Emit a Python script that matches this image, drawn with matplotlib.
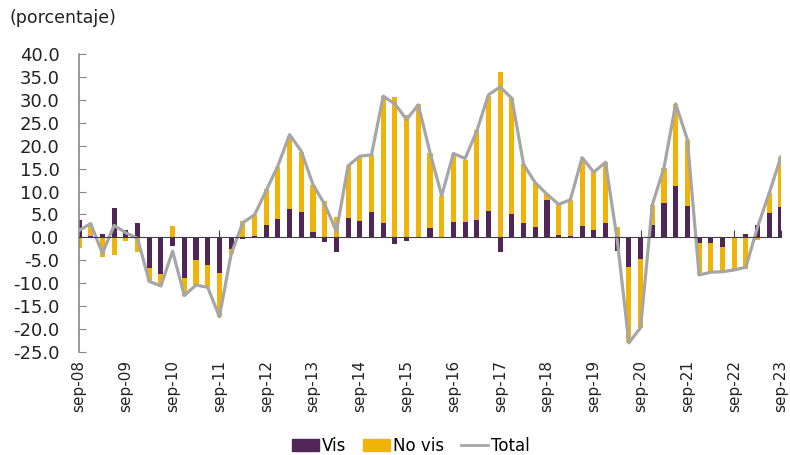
import numpy as np
import matplotlib
matplotlib.use('Agg')
import matplotlib.pyplot as plt
from matplotlib.patches import Patch
from matplotlib.lines import Line2D

# quarterly data, sep-08 .. sep-23 (61 quarters), only every 4th labelled
years = list(range(8, 24))
labels = ['sep-%02d' % y for y in years]

vis = [3.8, 0.2, 0.8, 6.4, 1.5, 3.1, -6.7, -7.9, -1.8, -8.9,
       -4.9, -6.0, -7.8, -2.6, -0.4, 0.3, 2.6, 4.0, 6.1, 5.5,
       1.2, -1.0, -3.3, 4.3, 3.6, 5.5, 3.1, -1.5, -0.9, -0.2,
       2.1, -0.2, 3.3, 3.3, 3.7, 5.7, -3.3, 5.1, 3.1, 2.3,
       8.1, 0.5, 0.3, 2.5, 1.7, 3.1, -3.0, -6.5, -4.8, 2.7,
       7.5, 11.1, 6.8, -1.2, -1.2, -2.1, 0.0, 0.7, 2.8, 5.4,
       6.6]
no_vis = [-2.3, 2.8, -4.3, -3.8, -0.9, -3.3, -2.9, -2.7, 2.4, -3.8,
          -5.5, -4.8, -9.5, -1.1, 3.5, 4.5, 7.9, 11.4, 16.0, 13.2,
          10.2, 8.0, 4.4, 11.3, 13.9, 12.5, 27.7, 30.6, 26.6, 29.0,
          16.4, 9.1, 14.8, 13.6, 19.7, 25.2, 36.1, 25.2, 12.9, 9.5,
          1.3, 6.7, 7.9, 14.9, 12.5, 13.3, 2.3, -16.5, -14.9, 4.4,
          7.7, 18.0, 14.5, -7.0, -6.3, -5.4, -7.0, -6.8, -0.6, 4.3,
          11.0]
total = [1.5, 3.0, -3.5, 2.6, 1.0, -0.2, -9.6, -10.6, -3.0, -12.7,
         -10.4, -10.9, -17.3, -3.7, 3.2, 4.9, 10.2, 15.6, 22.4, 18.8,
         11.5, 7.2, 1.3, 15.6, 17.7, 18.0, 30.8, 29.1, 25.7, 28.9,
         18.5, 9.1, 18.3, 17.2, 23.2, 31.1, 32.8, 30.3, 15.9, 11.9,
         9.4, 7.2, 8.2, 17.4, 14.2, 16.4, -0.5, -23.0, -19.7, 7.1,
         15.2, 29.1, 21.3, -8.2, -7.6, -7.5, -7.1, -6.5, 2.3, 9.7,
         17.6]

purple = '#4F2657'
gold = '#F0B308'
grey = '#A6A6A6'

x = np.arange(len(vis))
vis = np.array(vis)
no_vis = np.array(no_vis)

# excel-style stacking: positives up from zero, negatives down from zero
nv_base = np.where(np.sign(no_vis) == np.sign(vis), vis, 0.0)

fig = plt.figure(figsize=(7.9, 4.55), dpi=100)
ax = fig.add_axes([0.1, 0.2264, 0.8886, 0.655])

ax.bar(x, vis, width=0.43, color=purple, zorder=2)
ax.bar(x, no_vis, width=0.43, bottom=nv_base, color=gold, zorder=2)
ax.plot(x, total, color=grey, lw=2.3, zorder=3)

ax.set_xlim(0, len(x) - 1)
ax.set_ylim(-25, 40)
yt = np.arange(-25, 41, 5)
ax.set_yticks(yt)
ax.set_yticklabels(['%.1f' % v for v in yt], fontsize=13, color='#222222')
ax.tick_params(axis='y', direction='in', length=5, color='#888888', pad=14)

for s in ['top', 'right']:
    ax.spines[s].set_visible(False)
ax.spines['left'].set_color('#888888')
ax.spines['left'].set_linewidth(1.2)
ax.spines['bottom'].set_position(('data', 0))
ax.spines['bottom'].set_color('#404040')
ax.spines['bottom'].set_zorder(4)

tick_pos = x[::4]
ax.set_xticks(tick_pos)
ax.tick_params(axis='x', direction='in', length=5, color='#404040', labelbottom=False)

# labels sit below the plot, not on the zero line
sec = ax.secondary_xaxis('bottom')
sec.set_xticks(tick_pos)
sec.set_xticklabels(labels, rotation=90, fontsize=11, color='#222222')
sec.tick_params(length=0, pad=6)
sec.spines['bottom'].set_visible(False)

fig.text(0.012, 0.96, '(porcentaje)', fontsize=12.5, color='#222222', va='center')

handles = [Patch(color=purple, label='Vis'),
           Patch(color=gold, label='No vis'),
           Line2D([], [], color=grey, lw=2, label='Total')]
fig.legend(handles=handles, loc='center', bbox_to_anchor=(0.52, 0.02), ncol=3,
           frameon=False, fontsize=12, handlelength=1.6, handleheight=0.7,
           columnspacing=1.0, handletextpad=0.2)

fig.savefig('out.png', dpi=100)
